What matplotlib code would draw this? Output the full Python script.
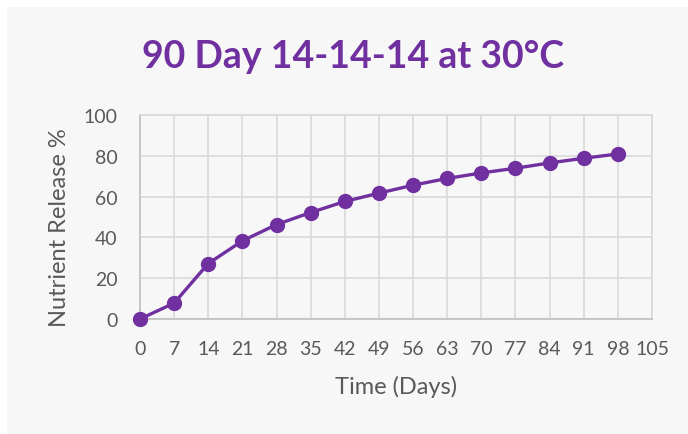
import matplotlib
matplotlib.use("Agg")
import matplotlib.pyplot as plt
from matplotlib.patches import Rectangle

days = [0, 7, 14, 21, 28, 35, 42, 49, 56, 63, 70, 77, 84, 91, 98]
release = [0, 7.8, 27.2, 38.3, 46.3, 52.2, 57.6, 61.7, 65.6, 68.9, 71.6, 73.9, 76.5, 78.8, 80.9]
x_ticks = list(range(0, 106, 7))
y_ticks = [0, 20, 40, 60, 80, 100]

purple = "#7030A0"
gray_txt = "#595959"

plt.rcParams['font.family'] = ['Lato', 'DejaVu Sans']

fig = plt.figure(figsize=(6.88, 4.35), dpi=100)
fig.patch.set_facecolor("white")
fig.patches.append(Rectangle((7/688, 0), 1, 1 - 8/435, transform=fig.transFigure,
                             facecolor="#f7f7f7", edgecolor="none", zorder=-10))

ax = fig.add_axes([140/688, 1 - 320/435, 512/688, 204/435])
ax.set_facecolor("#f7f7f7")
ax.plot(days, release, color=purple, lw=2.4, marker='o', markersize=10,
        markerfacecolor=purple, markeredgecolor=purple, clip_on=False, zorder=5)

ax.set_xlim(0, 105)
ax.set_ylim(0, 100)
ax.set_xticks(x_ticks)
ax.set_yticks(y_ticks)
ax.grid(True, color="#d9d9d9", lw=1.2)
ax.set_axisbelow(True)
for s in ax.spines.values():
    s.set_color("#d9d9d9")
    s.set_linewidth(1.2)
ax.spines['left'].set_color("#bfbfbf")
ax.spines['bottom'].set_color("#bfbfbf")
ax.tick_params(length=0, labelsize=14, labelcolor=gray_txt, pad=15)
ax.tick_params(axis='y', pad=16)

ax.set_xlabel("Time (Days)", fontsize=17, color=gray_txt)
ax.set_ylabel("Nutrient Release %", fontsize=17, color=gray_txt)
ax.xaxis.set_label_coords(0.5, -0.275)
ax.yaxis.set_label_coords(-0.137, 0.453)

fig.text(353/688, 1 - 57/435, "90 Day 14-14-14 at 30°C", fontsize=27, fontweight='bold',
         color=purple, ha='center', va='center')

fig.savefig("out.png", dpi=100, facecolor=fig.get_facecolor())
